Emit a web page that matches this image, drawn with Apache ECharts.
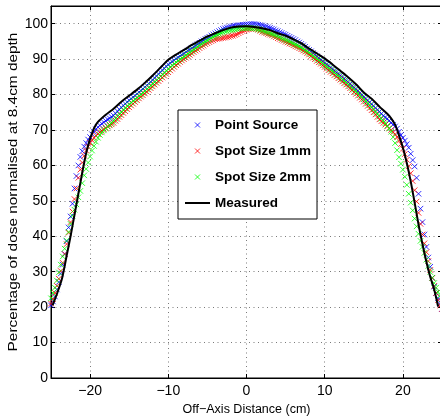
<!DOCTYPE html>
<html>
<head>
<meta charset="utf-8">
<script src="https://cdn.jsdelivr.net/npm/echarts@6/dist/echarts.min.js"></script>
<style>
html,body{margin:0;padding:0;background:#fff}
#chart{width:440px;height:418px}
</style>
</head>
<body>
<div id="chart"></div>
<script>
// Off-axis sample positions (cm) shared by the three simulated profiles
const offAxisCm = [
-25,-24.75,-24.5,-24.25,-24,-23.75,-23.5,-23.25,-23,-22.75,-22.5,-22.25,-22,-21.75,-21.5,-21.25,-21,-20.75,-20.5,-20.25,
-20,-19.75,-19.5,-19.25,-19,-18.75,-18.5,-18.25,-18,-17.75,-17.5,-17.25,-17,-16.75,-16.5,-16.25,-16,-15.75,-15.5,-15.25,
-15,-14.75,-14.5,-14.25,-14,-13.75,-13.5,-13.25,-13,-12.75,-12.5,-12.25,-12,-11.75,-11.5,-11.25,-11,-10.75,-10.5,-10.25,
-10,-9.75,-9.5,-9.25,-9,-8.75,-8.5,-8.25,-8,-7.75,-7.5,-7.25,-7,-6.75,-6.5,-6.25,-6,-5.75,-5.5,-5.25,
-5,-4.75,-4.5,-4.25,-4,-3.75,-3.5,-3.25,-3,-2.75,-2.5,-2.25,-2,-1.75,-1.5,-1.25,-1,-0.75,-0.5,-0.25,
0,0.25,0.5,0.75,1,1.25,1.5,1.75,2,2.25,2.5,2.75,3,3.25,3.5,3.75,4,4.25,4.5,4.75,
5,5.25,5.5,5.75,6,6.25,6.5,6.75,7,7.25,7.5,7.75,8,8.25,8.5,8.75,9,9.25,9.5,9.75,
10,10.25,10.5,10.75,11,11.25,11.5,11.75,12,12.25,12.5,12.75,13,13.25,13.5,13.75,14,14.25,14.5,14.75,
15,15.25,15.5,15.75,16,16.25,16.5,16.75,17,17.25,17.5,17.75,18,18.25,18.5,18.75,19,19.25,19.5,19.75,
20,20.25,20.5,20.75,21,21.25,21.5,21.75,22,22.25,22.5,22.75,23,23.25,23.5,23.75,24,24.25,24.5,24.75,
25
];

// Point Source (% dose)
const pointSource = [
20.5,21.6,23.0,25.0,27.1,29.5,32.0,35.0,38.6,42.5,45.6,49.2,53.5,57.0,60.0,62.4,64.0,65.3,66.3,67.3,
68.0,68.8,69.5,70.2,70.8,71.3,71.8,72.2,72.6,73.0,73.3,73.7,74.1,74.7,75.3,75.8,76.4,76.9,77.4,77.9,
78.4,78.8,79.3,79.7,80.2,80.7,81.1,81.6,82.1,82.6,83.1,83.6,84.1,84.7,85.2,85.8,86.3,86.9,87.4,88.0,
88.5,88.9,89.3,89.7,90.1,90.5,90.9,91.2,91.6,92.0,92.4,92.7,93.1,93.5,93.9,94.2,94.6,95.0,95.3,95.7,
96.0,96.3,96.7,97.0,97.3,97.6,97.9,98.2,98.5,98.7,98.9,99.0,99.2,99.3,99.4,99.5,99.6,99.6,99.7,99.7,
99.8,99.8,99.9,99.9,99.9,99.8,99.7,99.6,99.5,99.3,99.2,99.0,98.8,98.6,98.4,98.1,97.9,97.6,97.4,97.1,
96.9,96.6,96.3,96.0,95.7,95.4,95.0,94.7,94.3,93.9,93.5,93.0,92.6,92.2,91.7,91.3,90.8,90.3,89.8,89.4,
88.9,88.5,88.1,87.6,87.2,86.7,86.3,85.8,85.4,84.9,84.5,84.0,83.5,83.0,82.5,82.0,81.5,81.0,80.4,79.9,
79.3,78.8,78.3,77.8,77.3,76.8,76.2,75.7,75.2,74.6,74.0,73.6,73.2,72.6,72.0,71.5,71.0,70.4,69.5,68.6,
67.8,67.0,66.0,65.0,63.3,61.5,59.7,56.5,52.0,47.8,44.0,40.5,37.0,34.0,31.4,28.3,25.8,24.0,22.5,21.0,
19.5
];

// Spot Size 1mm (% dose)
const spot1mm = [
21.0,22.3,24.0,26.0,28.0,30.2,32.5,35.0,37.8,41.0,44.0,47.0,50.5,53.5,56.5,58.8,60.8,62.7,64.2,65.3,
66.3,67.1,67.8,68.4,68.9,69.4,69.8,70.2,70.6,71.0,71.3,71.6,72.0,72.6,73.1,73.7,74.2,74.8,75.3,75.9,
76.4,76.9,77.4,77.9,78.4,78.9,79.4,79.8,80.3,80.8,81.3,81.8,82.3,82.8,83.3,83.8,84.3,84.8,85.3,85.8,
86.3,86.8,87.3,87.8,88.3,88.7,89.2,89.6,90.0,90.4,90.8,91.2,91.6,92.0,92.4,92.7,93.1,93.5,93.8,94.2,
94.5,94.8,95.1,95.3,95.6,95.7,95.8,95.9,96.0,96.1,96.2,96.3,96.5,96.6,96.8,97.0,97.3,97.6,97.9,98.1,
98.3,98.5,98.6,98.6,98.6,98.5,98.3,98.0,97.7,97.5,97.3,97.1,96.9,96.7,96.4,96.2,95.9,95.7,95.4,95.2,
94.9,94.7,94.4,94.2,93.9,93.6,93.4,93.1,92.8,92.4,92.1,91.7,91.3,90.9,90.4,90.0,89.5,89.1,88.7,88.2,
87.8,87.3,86.9,86.4,86.0,85.5,85.1,84.6,84.2,83.7,83.2,82.8,82.3,81.8,81.3,80.7,80.2,79.7,79.1,78.6,
78.0,77.4,76.8,76.2,75.6,75.0,74.4,73.7,73.0,72.5,72.0,71.5,71.0,70.5,70.0,69.4,68.8,68.0,67.0,66.0,
64.7,63.2,61.6,59.8,57.8,55.6,53.0,49.8,46.6,43.5,40.5,38.0,35.5,33.0,30.5,28.2,26.0,24.0,22.0,20.5,
19.5
];

// Spot Size 2mm (% dose)
const spot2mm = [
22.5,24.0,25.5,27.5,29.8,32.0,34.3,36.5,38.8,41.2,43.5,45.8,47.5,49.0,51.0,52.8,55.0,57.2,59.0,60.8,
62.5,64.2,65.5,66.7,67.8,68.6,69.3,69.9,70.4,71.0,71.5,72.0,72.6,73.2,73.8,74.4,75.0,75.6,76.1,76.7,
77.2,77.7,78.2,78.6,79.1,79.6,80.0,80.5,81.0,81.5,82.0,82.5,83.0,83.5,84.0,84.6,85.1,85.6,86.1,86.7,
87.2,87.7,88.2,88.6,89.1,89.5,89.9,90.3,90.7,91.1,91.5,91.9,92.3,92.7,93.1,93.5,93.9,94.3,94.6,95.0,
95.3,95.6,96.0,96.3,96.6,96.9,97.1,97.4,97.6,97.8,97.9,98.1,98.2,98.3,98.4,98.5,98.6,98.7,98.7,98.8,
98.8,98.8,98.8,98.7,98.7,98.6,98.4,98.3,98.1,97.9,97.7,97.5,97.3,97.1,96.9,96.7,96.5,96.2,95.9,95.7,
95.4,95.2,94.9,94.7,94.4,94.1,93.9,93.6,93.3,92.9,92.6,92.2,91.8,91.4,91.0,90.5,90.1,89.7,89.2,88.8,
88.3,87.9,87.5,87.0,86.6,86.2,85.7,85.3,84.8,84.3,83.9,83.4,82.9,82.4,81.9,81.4,80.9,80.4,79.8,79.3,
78.7,78.1,77.5,77.0,76.4,75.8,75.1,74.5,73.8,73.2,72.6,71.9,71.2,70.4,69.5,68.0,66.3,64.3,62.3,60.5,
58.8,56.8,54.5,52.0,49.5,47.3,45.0,42.8,40.7,38.7,37.0,35.3,33.4,31.6,29.9,28.3,26.8,25.5,24.3,23.3,
22.3
];

// Measured profile
const measuredCm = [
-24.8,-24.2,-23.6,-23,-22.5,-22,-21.5,-21,-20.5,-20,-19.5,-19,-18,-17,-16,-15,-14,-13,-12,-11,
-10,-9,-8,-7,-6,-5,-4,-3,-2,-1,0,1,2,3,4,5,6,7,8,9,
10,11,12,13,14,15,16,17,18,18.5,19,19.5,20,20.5,21,21.5,22,22.5,23,23.5,
24,24.5
];
const measuredDose = [
20.5,24,28,34.5,40,46,52,58,63.5,67.5,70.5,72.3,74.3,76,78,79.7,81.4,83.3,85.4,87.6,
89.8,91.3,92.6,94,95.2,96.4,97.3,98.2,98.9,99.2,99.3,99.1,98.7,98.2,97.3,96.6,95.6,94.5,93,91.6,
90.2,88.5,86.7,84.9,82.9,80.6,78.8,76.6,74.6,73.3,71.5,68.5,65,60.7,55.5,49.5,43.3,37.8,32.8,28.5,
25,20.2
];

const seriesNames = ['Point Source', 'Spot Size 1mm', 'Spot Size 2mm', 'Measured'];
const seriesColors = ['#0000ff', '#ff0000', '#00ff00', '#000000'];
const xTicks = [-20, -10, 0, 10, 20];
const yTicks = [0, 10, 20, 30, 40, 50, 60, 70, 80, 90, 100];

const FONT = '"Liberation Sans", Arial, Helvetica, sans-serif';
const CROSS = 'path://M0,0L10,10M10,0L0,10';

const pairs = (xs, ys) => xs.map((x, i) => [x, ys[i]]);
const fmt = v => (v < 0 ? '\u2212' + (-v) : String(v));

function scatter(name, color, ys) {
  return {
    name, type: 'scatter', data: pairs(offAxisCm, ys),
    symbol: CROSS, symbolSize: 5.5,
    itemStyle: { color: color, borderColor: color, borderWidth: 1 },
    emphasis: { disabled: true }, silent: true
  };
}

const gridLine = { show: true, lineStyle: { color: '#7a7a7a', type: [1, 3.5], width: 1 } };

const chart = echarts.init(document.getElementById('chart'), null, { renderer: 'canvas' });
chart.setOption({
  animation: false,
  backgroundColor: '#fff',
  grid: {
    left: 51, right: -2, top: 6, bottom: 40,
    show: true, borderColor: '#000', borderWidth: 1,
    outerBoundsMode: 'none'
  },
  xAxis: [{
    type: 'value', min: -25, max: 25,
    axisLine: { onZero: false, lineStyle: { color: '#000', width: 1 } },
    axisTick: { inside: true, length: 4, customValues: xTicks, lineStyle: { color: '#000' } },
    axisLabel: { customValues: xTicks, formatter: fmt, color: '#000', fontSize: 14, fontFamily: FONT, margin: 6 },
    splitLine: gridLine,
    name: 'Off\u2212Axis Distance (cm)', nameLocation: 'middle', nameGap: 23,
    nameTextStyle: { color: '#000', fontSize: 12.5, fontFamily: FONT }
  }, {
    type: 'value', min: -25, max: 25, position: 'top',
    axisLine: { show: true, onZero: false, lineStyle: { color: '#000' } },
    axisTick: { inside: true, length: 4, customValues: xTicks, lineStyle: { color: '#000' } },
    axisLabel: { show: false }, splitLine: { show: false }
  }],
  yAxis: [{
    type: 'value', min: 0, max: 105, interval: 10,
    axisLine: { show: true, onZero: false, lineStyle: { color: '#000', width: 1 } },
    axisTick: { show: true, inside: true, length: 4, customValues: yTicks, lineStyle: { color: '#000' } },
    axisLabel: { customValues: yTicks, color: '#000', fontSize: 14, fontFamily: FONT, margin: 3 },
    splitLine: gridLine
  }, {
    type: 'value', min: 0, max: 105, interval: 10, position: 'right',
    axisLine: { show: true, onZero: false, lineStyle: { color: '#000' } },
    axisTick: { show: true, inside: true, length: 4, customValues: yTicks, lineStyle: { color: '#000' } },
    axisLabel: { show: false }, splitLine: { show: false }
  }],
  legend: {
    orient: 'vertical', left: 178, top: 110,
    padding: [7, 6, 8, 7],
    backgroundColor: '#fff', borderColor: '#000', borderWidth: 1, borderRadius: 0,
    itemWidth: 25, itemHeight: 5, itemGap: 10,
    selectedMode: false,
    textStyle: { color: '#000', fontWeight: 'bold', fontSize: 13.5, fontFamily: FONT, lineHeight: 16, padding: [0, 0, 0, 0] },
    data: [
      { name: seriesNames[0], icon: CROSS, itemStyle: { color: seriesColors[0], borderColor: seriesColors[0], borderWidth: 1 } },
      { name: seriesNames[1], icon: CROSS, itemStyle: { color: seriesColors[1], borderColor: seriesColors[1], borderWidth: 1 } },
      { name: seriesNames[2], icon: CROSS, itemStyle: { color: seriesColors[2], borderColor: seriesColors[2], borderWidth: 1 } },
      { name: seriesNames[3], icon: 'path://M0,0H25V2H0Z', itemStyle: { color: '#000', borderWidth: 0 } }
    ]
  },
  graphic: [{
    type: 'text', x: 14, y: 192, rotation: Math.PI / 2, scaleX: 1.23,
    style: {
      text: 'Percentage of dose normalised at 8.4cm depth',
      font: '12.5px ' + FONT, fill: '#000', align: 'center', verticalAlign: 'middle'
    }
  }],
  series: [
    scatter(seriesNames[0], seriesColors[0], pointSource),
    scatter(seriesNames[1], seriesColors[1], spot1mm),
    scatter(seriesNames[2], seriesColors[2], spot2mm),
    {
      name: seriesNames[3], type: 'line', data: pairs(measuredCm, measuredDose),
      symbol: 'none', smooth: 0.25, silent: true,
      lineStyle: { color: '#000', width: 2 },
      itemStyle: { color: '#000' },
      emphasis: { disabled: true }, z: 5
    }
  ]
});
</script>
</body>
</html>
